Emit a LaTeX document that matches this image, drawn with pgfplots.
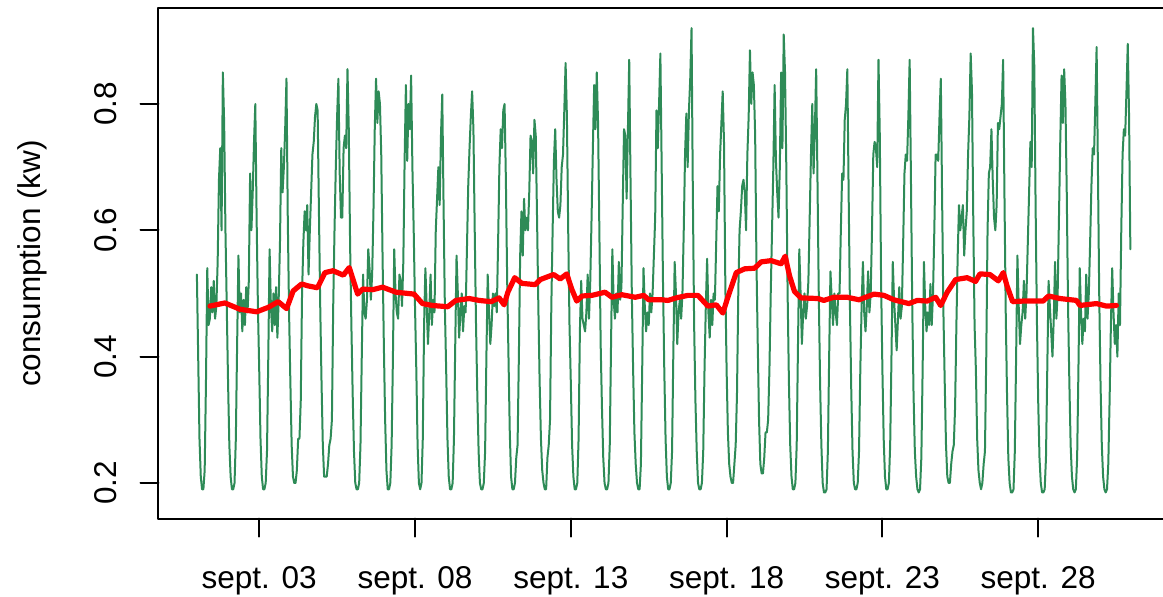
\documentclass[border=0pt]{standalone}
\usepackage{fontspec}
\setmainfont{Liberation Sans}
\usepackage{pgfplots}
\pgfplotsset{compat=1.18}
\definecolor{seagreen}{HTML}{2E8B57}
\begin{document}
\begin{tikzpicture}
\begin{axis}[
  scale only axis,
  width=504.65bp, height=255.1bp,
  xmin=-0.232, xmax=32.16, ymin=0.1436, ymax=0.9513,
  axis line style={line width=1bp},
  tick style={line width=1bp, black},
  tick align=outside, major tick length=9bp,
  tick pos=left,
  xtick={3,8,13,18,23,28},
  xticklabels={sept. 03, sept. 08, sept. 13, sept. 18, sept. 23, sept. 28},
  ytick={0.2,0.4,0.6,0.8},
  yticklabels={0.2,0.4,0.6,0.8},
  ticklabel style={font=\fontsize{15.75bp}{18.9bp}\selectfont},
  xticklabel style={anchor=base},
  xticklabel shift=26bp,
  yticklabel style={rotate=90, anchor=base},
  yticklabel shift=12bp,
  ylabel={consumption (kw)},
  every axis y label/.style={at={(axis description cs:-0.1254,0.5)}, rotate=90, anchor=center, font=\fontsize{15.75bp}{18.9bp}\selectfont},
  line join=round, line cap=round,
]
\addplot[seagreen, line width=1bp] table[row sep=\\, x expr=1+\coordindex/24, y=v] {
v\\
0.53\\0.40\\0.27\\0.21\\0.19\\0.19\\0.22\\0.36\\0.54\\0.45\\0.46\\0.51\\0.47\\0.52\\0.46\\0.48\\0.55\\0.68\\0.73\\0.60\\0.85\\0.77\\0.60\\0.48\\
0.36\\0.26\\0.21\\0.19\\0.19\\0.20\\0.27\\0.42\\0.56\\0.47\\0.50\\0.44\\0.49\\0.45\\0.51\\0.47\\0.52\\0.69\\0.60\\0.66\\0.74\\0.80\\0.62\\0.48\\
0.38\\0.27\\0.21\\0.19\\0.19\\0.20\\0.25\\0.40\\0.57\\0.48\\0.44\\0.50\\0.45\\0.51\\0.43\\0.49\\0.58\\0.73\\0.66\\0.70\\0.76\\0.84\\0.62\\0.47\\
0.36\\0.26\\0.21\\0.20\\0.20\\0.22\\0.27\\0.27\\0.33\\0.50\\0.58\\0.63\\0.60\\0.64\\0.53\\0.60\\0.66\\0.72\\0.74\\0.78\\0.80\\0.79\\0.63\\0.48\\
0.36\\0.26\\0.21\\0.21\\0.21\\0.23\\0.26\\0.27\\0.30\\0.48\\0.60\\0.70\\0.78\\0.84\\0.69\\0.62\\0.62\\0.73\\0.75\\0.73\\0.855\\0.76\\0.58\\0.45\\
0.34\\0.25\\0.20\\0.19\\0.19\\0.20\\0.26\\0.40\\0.53\\0.47\\0.46\\0.49\\0.57\\0.54\\0.49\\0.53\\0.63\\0.76\\0.84\\0.77\\0.82\\0.80\\0.72\\0.56\\
0.42\\0.30\\0.22\\0.19\\0.19\\0.20\\0.26\\0.40\\0.57\\0.50\\0.47\\0.46\\0.53\\0.52\\0.48\\0.55\\0.71\\0.83\\0.71\\0.80\\0.76\\0.845\\0.70\\0.60\\
0.48\\0.38\\0.26\\0.20\\0.19\\0.20\\0.27\\0.45\\0.54\\0.48\\0.42\\0.47\\0.53\\0.45\\0.49\\0.47\\0.60\\0.65\\0.70\\0.64\\0.75\\0.815\\0.64\\0.48\\
0.38\\0.27\\0.21\\0.19\\0.19\\0.20\\0.27\\0.42\\0.56\\0.50\\0.43\\0.47\\0.50\\0.44\\0.48\\0.47\\0.57\\0.67\\0.73\\0.78\\0.82\\0.76\\0.60\\0.45\\
0.34\\0.25\\0.20\\0.19\\0.19\\0.20\\0.25\\0.40\\0.53\\0.47\\0.42\\0.45\\0.50\\0.48\\0.50\\0.47\\0.58\\0.70\\0.76\\0.73\\0.79\\0.80\\0.68\\0.52\\
0.40\\0.28\\0.21\\0.19\\0.19\\0.20\\0.24\\0.26\\0.40\\0.56\\0.63\\0.56\\0.65\\0.60\\0.62\\0.60\\0.66\\0.75\\0.74\\0.69\\0.775\\0.75\\0.62\\0.48\\
0.36\\0.27\\0.22\\0.20\\0.19\\0.19\\0.24\\0.26\\0.30\\0.48\\0.60\\0.71\\0.76\\0.68\\0.63\\0.62\\0.64\\0.70\\0.72\\0.79\\0.865\\0.78\\0.60\\0.45\\
0.36\\0.26\\0.21\\0.19\\0.19\\0.20\\0.27\\0.44\\0.52\\0.46\\0.45\\0.44\\0.47\\0.53\\0.46\\0.52\\0.62\\0.73\\0.83\\0.76\\0.85\\0.77\\0.60\\0.42\\
0.32\\0.24\\0.20\\0.19\\0.19\\0.20\\0.26\\0.42\\0.57\\0.49\\0.46\\0.50\\0.47\\0.55\\0.49\\0.51\\0.64\\0.76\\0.75\\0.65\\0.76\\0.87\\0.68\\0.50\\
0.38\\0.28\\0.23\\0.20\\0.19\\0.19\\0.23\\0.38\\0.54\\0.48\\0.44\\0.47\\0.45\\0.50\\0.47\\0.50\\0.56\\0.62\\0.79\\0.73\\0.80\\0.88\\0.70\\0.52\\
0.38\\0.27\\0.21\\0.19\\0.19\\0.20\\0.25\\0.41\\0.55\\0.50\\0.42\\0.47\\0.49\\0.46\\0.50\\0.60\\0.72\\0.785\\0.70\\0.79\\0.84\\0.92\\0.66\\0.45\\
0.33\\0.25\\0.20\\0.19\\0.19\\0.20\\0.25\\0.38\\0.48\\0.555\\0.47\\0.43\\0.49\\0.45\\0.50\\0.49\\0.58\\0.67\\0.63\\0.72\\0.77\\0.82\\0.74\\0.52\\
0.38\\0.28\\0.23\\0.21\\0.20\\0.20\\0.23\\0.26\\0.34\\0.50\\0.60\\0.63\\0.67\\0.68\\0.66\\0.60\\0.72\\0.78\\0.885\\0.80\\0.85\\0.83\\0.75\\0.55\\
0.42\\0.30\\0.23\\0.215\\0.215\\0.24\\0.28\\0.28\\0.30\\0.38\\0.50\\0.60\\0.70\\0.83\\0.71\\0.66\\0.62\\0.70\\0.85\\0.73\\0.91\\0.85\\0.70\\0.50\\
0.36\\0.26\\0.21\\0.19\\0.19\\0.20\\0.26\\0.42\\0.57\\0.50\\0.42\\0.47\\0.50\\0.46\\0.48\\0.52\\0.62\\0.72\\0.80\\0.69\\0.76\\0.855\\0.68\\0.50\\
0.36\\0.26\\0.20\\0.185\\0.185\\0.19\\0.25\\0.40\\0.535\\0.49\\0.45\\0.50\\0.47\\0.45\\0.50\\0.50\\0.60\\0.69\\0.68\\0.775\\0.80\\0.855\\0.66\\0.48\\
0.35\\0.25\\0.20\\0.19\\0.19\\0.20\\0.25\\0.38\\0.48\\0.55\\0.47\\0.44\\0.48\\0.535\\0.47\\0.50\\0.60\\0.72\\0.74\\0.73\\0.70\\0.87\\0.75\\0.52\\
0.38\\0.27\\0.21\\0.19\\0.19\\0.20\\0.26\\0.40\\0.55\\0.49\\0.45\\0.41\\0.46\\0.51\\0.46\\0.48\\0.58\\0.69\\0.72\\0.71\\0.78\\0.87\\0.68\\0.48\\
0.34\\0.25\\0.21\\0.19\\0.185\\0.19\\0.24\\0.38\\0.55\\0.48\\0.44\\0.47\\0.45\\0.515\\0.45\\0.50\\0.60\\0.72\\0.72\\0.71\\0.78\\0.84\\0.65\\0.47\\
0.36\\0.26\\0.21\\0.20\\0.20\\0.23\\0.25\\0.26\\0.32\\0.45\\0.56\\0.64\\0.60\\0.62\\0.64\\0.56\\0.60\\0.63\\0.72\\0.78\\0.88\\0.82\\0.62\\0.45\\
0.38\\0.27\\0.22\\0.20\\0.19\\0.20\\0.23\\0.25\\0.40\\0.60\\0.69\\0.70\\0.76\\0.68\\0.62\\0.60\\0.64\\0.77\\0.76\\0.78\\0.80\\0.87\\0.66\\0.47\\
0.34\\0.24\\0.20\\0.185\\0.185\\0.19\\0.25\\0.40\\0.56\\0.48\\0.42\\0.45\\0.47\\0.52\\0.46\\0.50\\0.58\\0.66\\0.74\\0.70\\0.92\\0.86\\0.64\\0.46\\
0.33\\0.24\\0.20\\0.185\\0.185\\0.19\\0.24\\0.38\\0.52\\0.48\\0.44\\0.40\\0.46\\0.55\\0.46\\0.50\\0.62\\0.74\\0.845\\0.77\\0.855\\0.80\\0.66\\0.48\\
0.36\\0.26\\0.21\\0.19\\0.185\\0.19\\0.24\\0.38\\0.54\\0.47\\0.42\\0.46\\0.44\\0.53\\0.46\\0.50\\0.58\\0.67\\0.73\\0.72\\0.80\\0.89\\0.70\\0.50\\
0.36\\0.26\\0.21\\0.19\\0.185\\0.19\\0.23\\0.33\\0.45\\0.54\\0.47\\0.42\\0.45\\0.40\\0.50\\0.45\\0.60\\0.72\\0.76\\0.75\\0.82\\0.895\\0.78\\0.57\\
};
\addplot[red, line width=2.6bp] coordinates {
(1.42,0.480) (1.90,0.485) (2.38,0.475) (2.92,0.471) (3.29,0.478) (3.61,0.487) (3.88,0.476) (4.09,0.504) (4.36,0.515) (4.57,0.512) (4.87,0.509) (5.11,0.533) (5.37,0.536) (5.70,0.529) (5.89,0.541) (6.16,0.499) (6.32,0.507) (6.64,0.506) (6.96,0.510) (7.39,0.502) (7.97,0.499) (8.24,0.484) (8.56,0.481) (9.05,0.479) (9.31,0.489) (9.74,0.492) (10.06,0.489) (10.44,0.487) (10.70,0.493) (10.86,0.482) (10.98,0.502) (11.20,0.525) (11.43,0.516) (11.86,0.514) (12.02,0.522) (12.18,0.525) (12.45,0.530) (12.66,0.523) (12.87,0.531) (13.03,0.507) (13.19,0.488) (13.36,0.496) (13.68,0.497) (14.10,0.502) (14.32,0.494) (14.64,0.498) (15.07,0.494) (15.34,0.497) (15.50,0.490) (15.92,0.490) (16.12,0.489) (16.38,0.493) (16.76,0.497) (17.08,0.497) (17.40,0.480) (17.67,0.482) (17.88,0.469) (18.04,0.494) (18.31,0.533) (18.58,0.539) (18.90,0.540) (19.11,0.550) (19.43,0.552) (19.75,0.547) (19.88,0.559) (20.02,0.528) (20.18,0.503) (20.39,0.493) (20.93,0.492) (21.12,0.489) (21.44,0.494) (21.87,0.494) (22.25,0.490) (22.73,0.499) (23.05,0.497) (23.37,0.490) (23.85,0.484) (24.12,0.489) (24.44,0.488) (24.71,0.494) (24.87,0.481) (25.08,0.502) (25.35,0.522) (25.72,0.525) (25.99,0.519) (26.13,0.531) (26.45,0.530) (26.72,0.520) (26.88,0.533) (27.00,0.512) (27.18,0.487) (27.52,0.488) (28.16,0.488) (28.33,0.496) (28.70,0.492) (29.23,0.489) (29.34,0.481) (29.87,0.484) (30.19,0.480) (30.51,0.481)
};
\end{axis}
\pgfresetboundingbox
\path[use as bounding box] (-79.25bp,-39.2bp) rectangle (502.25bp,259.3bp);
\end{tikzpicture}
\end{document}
